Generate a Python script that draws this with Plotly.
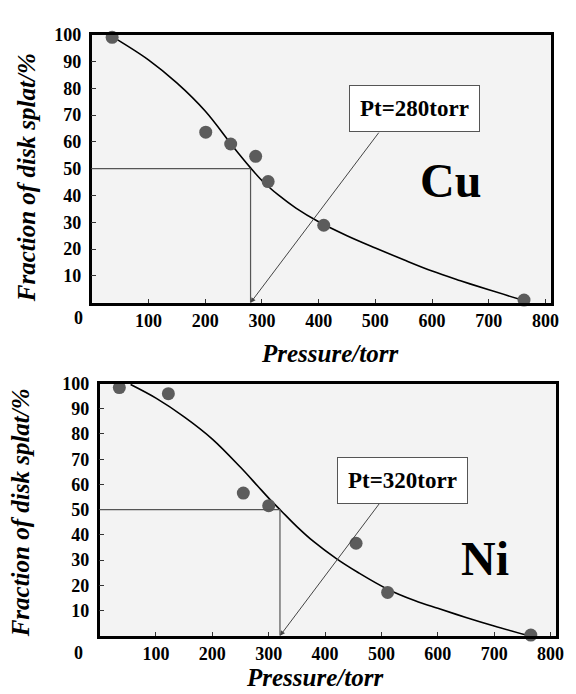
import plotly.graph_objects as go

# ---------------- data ----------------
# Cu panel
cu_pressure = [36, 201, 245, 289, 311, 409, 762]
cu_fraction = [99.0, 63.6, 59.2, 54.6, 45.2, 28.9, 1.0]
cu_fit_pressure = [40, 100, 150, 200, 250, 280, 300, 330, 360, 400, 450, 500, 550, 600, 650, 700, 762]
cu_fit_fraction = [98.8, 90.6, 82.0, 71.5, 58.0, 50.3, 45.6, 40.0, 35.3, 30.2, 25.0, 20.4, 16.0, 11.8, 8.2, 4.8, 0.8]
cu_pt = 280
cu_label = "Pt=280torr"

# Ni panel
ni_pressure = [35, 122, 255, 300, 455, 511, 765]
ni_fraction = [98.4, 96.0, 56.6, 51.6, 36.7, 17.2, 0.3]
ni_fit_pressure = [55, 100, 150, 200, 250, 280, 300, 322, 350, 380, 420, 460, 510, 560, 600, 650, 700, 762]
ni_fit_fraction = [99.6, 94.2, 86.8, 78.0, 66.8, 59.5, 54.6, 49.6, 43.3, 37.3, 30.6, 24.9, 18.6, 13.9, 10.9, 7.3, 3.9, 0.0]
ni_pt = 320
ni_label = "Pt=320torr"

half_fraction = 50
x_ticks = [100, 200, 300, 400, 500, 600, 700, 800]
y_ticks = [10, 20, 30, 40, 50, 60, 70, 80, 90, 100]
x_title = "Pressure/torr"
y_title = "Fraction of disk splat/%"

# ---------------- figure ----------------
W, H = 576, 694
SERIF = "Liberation Serif"
MARKER = "#5c5c5c"
GUIDE = "#555555"

fig = go.Figure()

panels = [
    dict(xa="x", ya="y", px=cu_pressure, py=cu_fraction, fx=cu_fit_pressure, fy=cu_fit_fraction,
         pt=cu_pt, label=cu_label, metal="Cu",
         box=(569, 72.4), lead=(508, 64), metal_xy=(633, 45.6)),
    dict(xa="x2", ya="y2", px=ni_pressure, py=ni_fraction, fx=ni_fit_pressure, fy=ni_fit_fraction,
         pt=ni_pt, label=ni_label, metal="Ni",
         box=(537, 61.7), lead=(500, 53.5), metal_xy=(684, 30.5)),
]

shapes = []
annotations = []
for p in panels:
    fig.add_trace(go.Scatter(x=p["fx"], y=p["fy"], xaxis=p["xa"], yaxis=p["ya"], mode="lines",
                             line=dict(color="black", width=1.6, shape="spline", smoothing=1.0),
                             showlegend=False, hoverinfo="skip"))
    fig.add_trace(go.Scatter(x=p["px"], y=p["py"], xaxis=p["xa"], yaxis=p["ya"], mode="markers",
                             marker=dict(color=MARKER, size=13), cliponaxis=False,
                             showlegend=False))
    shapes.append(dict(type="line", xref=p["xa"], yref=p["ya"], x0=0, y0=half_fraction,
                       x1=p["pt"], y1=half_fraction, line=dict(color=GUIDE, width=1.2)))
    shapes.append(dict(type="line", xref=p["xa"], yref=p["ya"], x0=p["pt"], y0=0,
                       x1=p["pt"], y1=half_fraction, line=dict(color=GUIDE, width=1.2)))
    annotations.append(dict(xref=p["xa"], yref=p["ya"], axref=p["xa"], ayref=p["ya"],
                            x=p["pt"], y=0, ax=p["lead"][0], ay=p["lead"][1], text="",
                            showarrow=True, arrowhead=2, arrowsize=1, arrowwidth=1,
                            arrowcolor="#444444"))
    annotations.append(dict(xref=p["xa"], yref=p["ya"], x=p["box"][0], y=p["box"][1],
                            text=p["label"], showarrow=False, bgcolor="white",
                            bordercolor="#555555", borderwidth=1, borderpad=10,
                            font=dict(family=SERIF, size=23, color="black", weight="bold")))
    annotations.append(dict(xref=p["xa"], yref=p["ya"], x=p["metal_xy"][0], y=p["metal_xy"][1],
                            text=p["metal"], showarrow=False,
                            font=dict(family=SERIF, size=48, color="black", weight="bold")))

for (x, y) in [(80, 313), (80, 652)]:
    annotations.append(dict(xref="paper", yref="paper", x=x / W, y=1 - y / H, text="0",
                            showarrow=False, xanchor="center", yanchor="middle",
                            font=dict(family=SERIF, size=18, color="black", weight="bold")))

# axis titles
title_font = dict(family=SERIF, size=25, color="black")
annotations.append(dict(xref="paper", yref="paper", x=334 / W, y=1 - 349 / H,
                        text="<b><i>" + x_title + "</i></b>", showarrow=False,
                        xanchor="center", yanchor="middle", font=title_font))
annotations.append(dict(xref="paper", yref="paper", x=319 / W, y=1 - 693 / H,
                        text="<b><i>" + x_title + "</i></b>", showarrow=False,
                        xanchor="center", yanchor="bottom", font=title_font))
for (x, y) in [(27, 170), (21, 510)]:
    annotations.append(dict(xref="paper", yref="paper", x=x / W, y=1 - y / H,
                            text="<b><i>" + y_title + "</i></b>", showarrow=False,
                            xanchor="center", yanchor="middle", textangle=-90,
                            font=title_font))

tickfont = dict(family=SERIF, size=18, color="black", weight="bold")
xcommon = dict(range=[0, 810], tickvals=x_ticks, ticks="inside", ticklen=4, tickwidth=1,
               tickcolor="#333333", showline=True, linewidth=2.5, linecolor="black", mirror=True,
               showgrid=False, zeroline=False, tickfont=tickfont)
ycommon = dict(range=[0, 100], tickvals=y_ticks, ticks="inside", ticklen=5, tickwidth=1.2,
               tickcolor="#333333", showline=True, linewidth=2.5, linecolor="black", mirror=True,
               showgrid=False, zeroline=False, tickfont=tickfont, ticklabelstandoff=4)

fig.update_layout(
    width=W, height=H, margin=dict(l=0, r=0, t=0, b=0),
    paper_bgcolor="white", plot_bgcolor="#f3f3f3",
    xaxis=dict(domain=[93 / W, 559 / W], anchor="y", **xcommon),
    yaxis=dict(domain=[1 - 297 / H, 1 - 25 / H], anchor="x", **ycommon),
    xaxis2=dict(domain=[101 / W, 564 / W], anchor="y2", **xcommon),
    yaxis2=dict(domain=[1 - 635 / H, 1 - 379 / H], anchor="x2", **ycommon),
    shapes=shapes, annotations=annotations,
)

fig.write_html("out.html")
